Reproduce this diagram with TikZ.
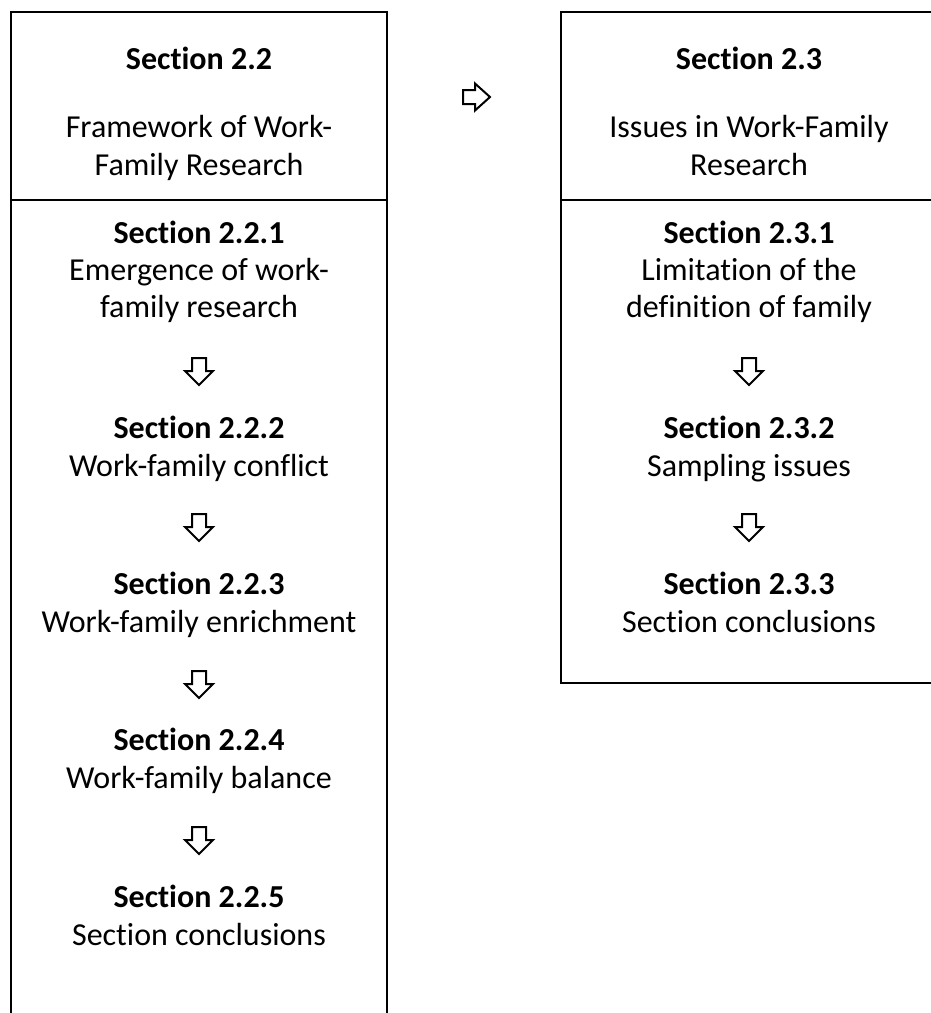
\documentclass[tikz,border=0pt]{standalone}
\usepackage{fontspec}
\setmainfont{Carlito}[Ligatures={NoCommon},RawFeature={-liga}]
\newcommand\downarr[1]{\draw[barrow] (#1) ++(-7,0) -- ++(14,0) -- ++(0,13) -- ++(7,0) -- ++(-14,14) -- ++(-14,-14) -- ++(7,0) -- cycle;}
\begin{document}
\begin{tikzpicture}[x=1pt,y=-1pt,
  txt/.style={anchor=base, inner sep=0pt, font=\fontsize{32}{38}\selectfont},
  hd/.style={anchor=base, inner sep=0pt, font=\fontsize{32}{38}\selectfont\bfseries},
  frame/.style={draw=black, line width=2pt},
  barrow/.style={draw=black, line width=2pt, line join=miter, fill=white}]
\useasboundingbox (0,0) rectangle (931,1013);
\clip (0,0) rectangle (931,1013);
% frames
\draw[frame] (11,1040) -- (11,12) -- (387,12) -- (387,1040);
\draw[frame] (11,200) -- (387,200);
\draw[frame] (561,12) rectangle (945,683);
\draw[frame] (561,200) -- (945,200);
% left column
\node[hd]  (s22)   at (199,69)  {Section 2.2};
\node[txt] (s22a)  at (199,137) {Framework of Work-};
\node[txt] (s22b)  at (199,175) {Family Research};
\node[hd]  (s221)  at (199,243) {Section 2.2.1};
\node[txt] (s221a) at (199,280) {Emergence of work-};
\node[txt] (s221b) at (199,317) {family research};
\node[hd]  (s222)  at (199,438) {Section 2.2.2};
\node[txt] (s222a) at (199,476) {Work-family conflict};
\node[hd]  (s223)  at (199,594) {Section 2.2.3};
\node[txt] (s223a) at (199,632) {Work-family enrichment};
\node[hd]  (s224)  at (199,750) {Section 2.2.4};
\node[txt] (s224a) at (199,788) {Work-family balance};
\node[hd]  (s225)  at (199,907) {Section 2.2.5};
\node[txt] (s225a) at (199,945) {Section conclusions};
% right column
\node[hd]  (s23)   at (749,69)  {Section 2.3};
\node[txt] (s23a)  at (749,137) {Issues in Work-Family};
\node[txt] (s23b)  at (749,175) {Research};
\node[hd]  (s231)  at (749,243) {Section 2.3.1};
\node[txt] (s231a) at (749,280) {Limitation of the};
\node[txt] (s231b) at (749,317) {definition of family};
\node[hd]  (s232)  at (749,438) {Section 2.3.2};
\node[txt] (s232a) at (749,476) {Sampling issues};
\node[hd]  (s233)  at (749,594) {Section 2.3.3};
\node[txt] (s233a) at (749,632) {Section conclusions};
% arrow anchors
\coordinate (la1) at (199,358);
\coordinate (la2) at (199,514);
\coordinate (la3) at (199,671);
\coordinate (la4) at (199,827);
\coordinate (ra1) at (749,358);
\coordinate (ra2) at (749,514);
\coordinate (ha)  at (463,97);
\downarr{la1}
\downarr{la2}
\downarr{la3}
\downarr{la4}
\downarr{ra1}
\downarr{ra2}
\draw[barrow] (ha) ++(0,-7) -- ++(12,0) -- ++(0,-6.5) -- ++(15,13.5) -- ++(-15,13.5) -- ++(0,-6.5) -- ++(-12,0) -- cycle;
\end{tikzpicture}
\end{document}
